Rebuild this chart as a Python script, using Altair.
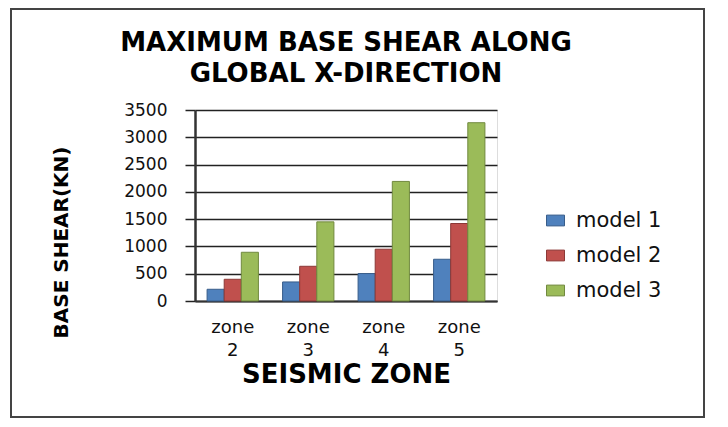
import altair as alt
import pandas as pd

zones = ["zone 2", "zone 3", "zone 4", "zone 5"]
models = ["model 1", "model 2", "model 3"]
model1 = [215, 349, 503, 765]
model2 = [398, 636, 949, 1420]
model3 = [893, 1450, 2191, 3267]
fills = ["#4f81bd", "#c0504d", "#9bbb59"]
edges = ["#385d8a", "#8c3836", "#71893f"]
y_ticks = [0, 500, 1000, 1500, 2000, 2500, 3000, 3500]
title_lines = ["MAXIMUM BASE SHEAR ALONG", "GLOBAL X-DIRECTION"]

rows = []
for i, z in enumerate(zones):
    for m, vals in zip(models, [model1, model2, model3]):
        rows.append({"zone": z, "model": m, "value": vals[i]})
df = pd.DataFrame(rows)

bars = alt.Chart(df).mark_bar(strokeWidth=1).encode(
    x=alt.X(
        "zone:N", sort=zones,
        scale=alt.Scale(paddingInner=0.32, paddingOuter=0.16),
        axis=alt.Axis(
            title="SEISMIC ZONE", labelExpr="split(datum.label, ' ')", labelAngle=0,
            labelFont="DejaVu Sans", labelFontSize=18, labelColor="#111",
            labelLineHeight=23, labelPadding=17, ticks=False,
            domainColor="#333", domainWidth=2,
            titleFont="DejaVu Sans", titleFontSize=26, titleFontWeight="bold",
            titleColor="#000", titleY=73, titleBaseline="middle",
        ),
    ),
    xOffset=alt.XOffset("model:N", sort=models),
    y=alt.Y(
        "value:Q", scale=alt.Scale(domain=[0, 3500]),
        axis=alt.Axis(
            values=y_ticks, title="BASE SHEAR(KN)", format="d",
            labelFont="DejaVu Sans", labelFontSize=17, labelColor="#111", labelPadding=18,
            tickSize=10, tickColor="#222", tickWidth=1.5,
            gridColor="#222", gridWidth=1.5, domainColor="#333", domainWidth=2.5,
            titleFont="DejaVu Sans", titleFontSize=20, titleFontWeight="bold",
            titleColor="#000", titleX=-124, titleY=132,
        ),
    ),
    color=alt.Color(
        "model:N", sort=models, scale=alt.Scale(domain=models, range=fills),
        legend=alt.Legend(
            title=None, orient="none", legendX=350, legendY=100,
            symbolType="M-1,-0.6L1,-0.6L1,0.6L-1,0.6Z", symbolSize=324,
            symbolStrokeColor="#555", symbolStrokeWidth=1, symbolOpacity=1,
            labelFont="DejaVu Sans", labelFontSize=21, labelColor="#111",
            labelOffset=10, rowPadding=13,
        ),
    ),
    stroke=alt.Stroke("model:N", sort=models, scale=alt.Scale(domain=models, range=edges), legend=None),
)

one = pd.DataFrame({"a": [0]})

frame = alt.Chart(one).mark_rect(
    fillOpacity=0, stroke="#444", strokeWidth=2
).encode(
    x=alt.value(-184), x2=alt.value(509), y=alt.value(-101), y2=alt.value(307)
)

title_style = dict(font="DejaVu Sans", fontSize=26, fontWeight="bold", color="#000",
                   align="center", baseline="middle")
title1 = alt.Chart(one).mark_text(text=title_lines[0], **title_style).encode(
    x=alt.value(151), y=alt.value(-67))
title2 = alt.Chart(one).mark_text(text=title_lines[1], **title_style).encode(
    x=alt.value(151), y=alt.value(-36))

chart = alt.layer(bars, frame, title1, title2).properties(
    width=302, height=191,
    autosize=alt.AutoSizeParams(type="none"),
    padding={"left": 187, "top": 102, "right": 221, "bottom": 126},
).configure_view(strokeWidth=0).configure(background="white")

chart.save("out.html", embed_options={"renderer": "svg", "actions": False})
